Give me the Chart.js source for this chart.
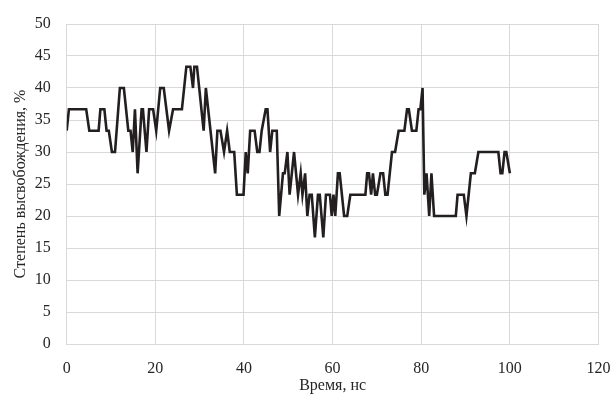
<!DOCTYPE html>
<html>
<head>
<meta charset="utf-8">
<script src="https://cdn.jsdelivr.net/npm/chart.js@4/dist/chart.umd.min.js"></script>
<style>
  html, body { margin: 0; padding: 0; background: #ffffff; }
  #wrap { width: 615px; height: 401px; }
</style>
</head>
<body>
<div id="wrap"><canvas id="c" width="615" height="401"></canvas></div>
<script>
// Time (ns) of each vertex of the curve
const times = [
  0, 0.5, 4.4, 5.1, 7.2, 7.6, 8.5, 9.0, 9.5, 10.2, 10.9, 12.0, 12.9, 13.9, 14.4, 14.9,
  15.4, 16.0, 16.9, 17.2, 18.0, 18.6, 19.5, 20.2, 21.1, 21.9, 23.1, 24.0, 26.0, 27.0,
  27.9, 28.5, 28.8, 29.4, 30.9, 31.4, 33.5, 34.0, 34.7, 35.5, 36.2, 36.8, 37.8, 38.4,
  39.9, 40.4, 40.85, 41.4, 42.4, 43.0, 43.5, 44.0, 44.9, 45.3, 45.9, 46.4, 47.4, 47.95,
  48.8, 49.2, 49.8, 50.3, 51.3, 52.2, 52.8, 53.2, 53.8, 54.3, 54.8, 55.3, 56.0, 56.7,
  57.1, 57.9, 58.5, 59.4, 59.8, 60.2, 60.6, 61.2, 61.6, 62.6, 63.3, 64.0, 67.4, 67.8,
  68.2, 68.7, 69.1, 69.6, 70.0, 70.8, 71.4, 71.9, 72.4, 73.4, 74.1, 74.9, 76.2, 76.8,
  77.2, 77.9, 78.9, 79.4, 79.8, 80.3, 80.7, 81.2, 81.8, 82.3, 82.9, 87.8, 88.2, 89.6,
  90.2, 91.2, 92.1, 92.9, 97.4, 97.9, 98.3, 98.8, 99.2, 100
];
// Release degree (%) at each vertex
const release = [
  33.33, 36.67, 36.67, 33.33, 33.33, 36.67, 36.67, 33.33, 33.33, 30, 30, 40, 40, 33.33, 33.33, 30,
  36.67, 26.67, 36.67, 36.67, 30, 36.67, 36.67, 33.33, 40, 40, 33.33, 36.67, 36.67, 43.33,
  43.33, 40, 43.33, 43.33, 33.33, 40, 26.67, 33.33, 33.33, 30, 33.33, 30, 30, 23.33,
  23.33, 30, 26.67, 33.33, 33.33, 30, 30, 33.33, 36.67, 36.67, 30, 33.33, 33.33, 20,
  26.67, 26.67, 30, 23.33, 30, 23.33, 26.67, 23.33, 26.67, 20, 23.33, 23.33, 16.67, 23.33,
  23.33, 16.67, 23.33, 23.33, 20, 23.33, 20, 26.67, 26.67, 20, 20, 23.33, 23.33, 26.67,
  26.67, 23.33, 26.67, 23.33, 23.33, 26.67, 26.67, 23.33, 23.33, 30, 30, 33.33, 33.33, 36.67,
  36.67, 33.33, 33.33, 36.67, 36.67, 40, 23.33, 26.67, 20, 26.67, 20, 20, 23.33, 23.33,
  20, 26.67, 26.67, 30, 30, 26.67, 26.67, 30, 30, 26.67
];
const xTicks = [0, 20, 40, 60, 80, 100, 120];
const yTicks = [0, 5, 10, 15, 20, 25, 30, 35, 40, 45, 50];
const xTitle = 'Время, нс';
const yTitle = 'Степень высвобождения, %';

const points = times.map((t, i) => ({ x: t, y: release[i] }));
const FONT = 'Liberation Serif, Times New Roman, serif';
const GRID = '#d9d9d9';

new Chart(document.getElementById('c'), {
  type: 'line',
  data: {
    datasets: [{
      data: points,
      borderColor: '#231f20',
      borderWidth: 2.6,
      pointRadius: 0,
      tension: 0,
      fill: false
    }]
  },
  options: {
    responsive: false,
    animation: false,
    layout: { padding: { left: 0, top: 24, right: 16.5, bottom: 0 } },
    plugins: { legend: { display: false }, tooltip: { enabled: false } },
    scales: {
      x: {
        type: 'linear',
        min: xTicks[0],
        max: xTicks[xTicks.length - 1],
        afterBuildTicks: s => { s.ticks = xTicks.map(v => ({ value: v })); },
        afterFit: s => { s.height = 57; s.paddingRight = 0; s.paddingLeft = 0; },
        grid: { color: GRID, lineWidth: 1, drawTicks: false },
        border: { color: GRID, width: 1 },
        ticks: { color: '#262626', font: { family: FONT, size: 16 }, padding: 15, maxRotation: 0 },
        title: { display: true, text: xTitle, color: '#262626', font: { family: FONT, size: 16 }, padding: { top: 0, bottom: 6 } }
      },
      y: {
        min: yTicks[0],
        max: yTicks[yTicks.length - 1],
        afterBuildTicks: s => { s.ticks = yTicks.map(v => ({ value: v })); },
        afterFit: s => { s.width = 66.7; s.paddingTop = 0; s.paddingBottom = 0; },
        grid: { color: GRID, lineWidth: 1, drawTicks: false },
        border: { color: GRID, width: 1 },
        ticks: { color: '#262626', font: { family: FONT, size: 16 }, padding: 16 },
        title: { display: true, text: yTitle, color: '#262626', font: { family: FONT, size: 16 }, padding: { top: 11, bottom: 0 } }
      }
    }
  }
});
</script>
</body>
</html>
